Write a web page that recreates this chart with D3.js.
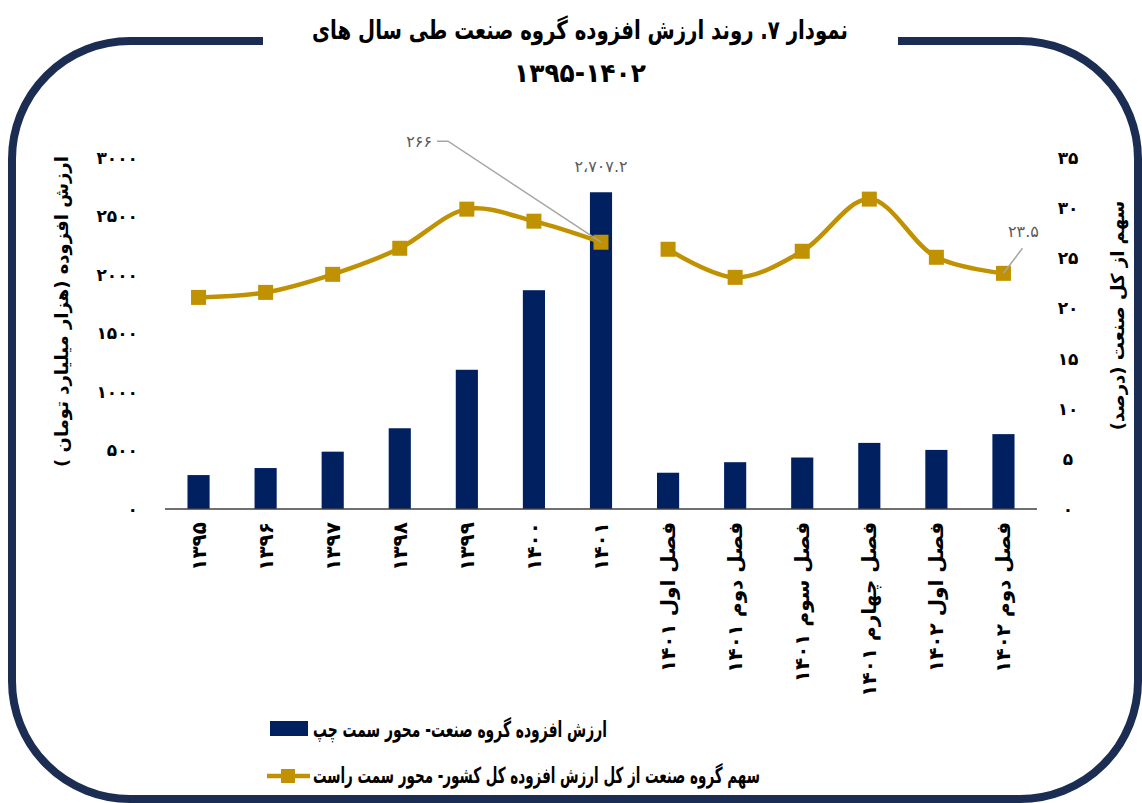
<!DOCTYPE html>
<html>
<head>
<meta charset="utf-8">
<script src="https://cdn.jsdelivr.net/npm/d3@7"></script>
<style>
  html, body { margin: 0; padding: 0; background: #ffffff; }
  svg { display: block; }
  text { font-family: "DejaVu Sans", sans-serif; }
</style>
</head>
<body>
<svg id="chart" width="1142" height="803"></svg>
<script>
// ---------- DATA ----------
const categories = ["۱۳۹۵","۱۳۹۶","۱۳۹۷","۱۳۹۸","۱۳۹۹","۱۴۰۰","۱۴۰۱",
  "فصل اول ۱۴۰۱","فصل دوم ۱۴۰۱","فصل سوم ۱۴۰۱","فصل چهارم ۱۴۰۱","فصل اول ۱۴۰۲","فصل دوم ۱۴۰۲"];
const valueAdded = [290, 350, 490, 690, 1190, 1870, 2707.2, 310, 400, 440, 565, 505, 640];
const industryShare = [21.1, 21.6, 23.4, 26.0, 29.9, 28.7, 26.6, 25.9, 23.1, 25.7, 30.9, 25.1, 23.5];
const lineSegments = [[0, 7], [7, 13]];
const leftTicks = [0, 500, 1000, 1500, 2000, 2500, 3000];
const rightTicks = [0, 5, 10, 15, 20, 25, 30, 35];
const titleLines = ["نمودار ۷. روند ارزش افزوده گروه صنعت طی سال های", "۱۳۹۵-۱۴۰۲"];
const leftAxisTitle = "ارزش افزوده (هزار میلیارد تومان )";
const rightAxisTitle = "سهم از کل صنعت (درصد)";
const legendLabels = ["ارزش افزوده گروه صنعت- محور سمت چپ", "سهم گروه صنعت از کل ارزش افزوده کل کشور- محور سمت راست"];
const barLabel = { index: 6, text: "۲،۷۰۷.۲" };
const lineLabels = [{ index: 6, text: "۲۶۶" }, { index: 12, text: "۲۳.۵" }];

// ---------- STYLE ----------
const BAR = "#002060", LINE = "#c09100", FRAME = "#1b2d52", LEADER = "#a6a6a6", LABEL = "#595959";
const fa = v => String(v).replace(/\d/g, d => "۰۱۲۳۴۵۶۷۸۹"[d]);

const svg = d3.select("#chart");
const plot = { left: 165, right: 1037, top: 158, bottom: 509 };

const x = d3.scaleBand().domain(categories).range([plot.left, plot.right])
  .paddingInner(0.67).paddingOuter(0.335);
const yL = d3.scaleLinear().domain([0, 3000]).range([plot.bottom, plot.top]);
const yR = d3.scaleLinear().domain([0, 35]).range([plot.bottom, plot.top]);

// ---------- FRAME ----------
(function () {
  const L = 12, R = 1138, T = 41, B = 799, r = 118, gapL = 263, gapR = 898;
  const p = d3.path();
  p.moveTo(gapL, T);
  p.lineTo(L + r, T);
  p.arcTo(L, T, L, T + r, r);
  p.lineTo(L, B - r);
  p.arcTo(L, B, L + r, B, r);
  p.lineTo(R - r, B);
  p.arcTo(R, B, R, B - r, r);
  p.lineTo(R, T + r);
  p.arcTo(R, T, R - r, T, r);
  p.lineTo(gapR, T);
  svg.append("path").attr("d", p.toString()).attr("fill", "none")
    .attr("stroke", FRAME).attr("stroke-width", 8);
})();

// ---------- TITLE ----------
const titleStyle = [{ size: 26, len: 536, y: 39 }, { size: 26, len: 132, y: 82 }];
svg.append("g").selectAll("text").data(titleLines).join("text")
  .attr("x", 580).attr("y", (d, i) => titleStyle[i].y)
  .attr("text-anchor", "middle").attr("direction", "rtl")
  .attr("font-size", (d, i) => titleStyle[i].size).attr("font-weight", "bold").attr("fill", "#000")
  .attr("textLength", (d, i) => titleStyle[i].len).attr("lengthAdjust", "spacingAndGlyphs")
  .text(d => d);

// ---------- BARS ----------
svg.append("g").selectAll("rect").data(valueAdded).join("rect")
  .attr("x", (d, i) => x(categories[i]))
  .attr("width", x.bandwidth())
  .attr("y", d => yL(d))
  .attr("height", d => yL(0) - yL(d))
  .attr("fill", BAR);

// baseline
svg.append("line").attr("x1", plot.left).attr("x2", plot.right)
  .attr("y1", plot.bottom).attr("y2", plot.bottom)
  .attr("stroke", "#404040").attr("stroke-width", 1.5);

// ---------- AXES ----------
const gl = svg.append("g").attr("transform", `translate(141,0)`)
  .call(d3.axisLeft(yL).tickValues(leftTicks).tickSize(0).tickPadding(3).tickFormat(fa));
gl.select(".domain").remove();
gl.selectAll("text").attr("font-size", 17).attr("font-weight", "bold")
  .attr("font-family", "DejaVu Sans").attr("fill", "#000");

const gr = svg.append("g").attr("transform", `translate(1068,0)`)
  .call(d3.axisRight(yR).tickValues(rightTicks).tickSize(0).tickPadding(0).tickFormat(fa));
gr.select(".domain").remove();
gr.selectAll("text").attr("text-anchor", "middle").attr("font-size", 17).attr("font-weight", "bold")
  .attr("font-family", "DejaVu Sans").attr("fill", "#000");

// x labels
svg.append("g").selectAll("text").data(categories).join("text")
  .attr("transform", d => `translate(${x(d) + x.bandwidth() / 2},522) rotate(-90)`)
  .attr("text-anchor", "end").attr("dy", "0.35em")
  .attr("font-size", 20).attr("font-weight", "bold").attr("fill", "#000")
  .text(d => d);

// axis titles
svg.append("text")
  .attr("transform", `translate(62,${(plot.top + plot.bottom) / 2 - 22}) rotate(-90)`)
  .attr("text-anchor", "middle").attr("direction", "rtl").attr("dy", "0.35em")
  .attr("font-size", 18).attr("font-weight", "bold").text(leftAxisTitle);
svg.append("text")
  .attr("transform", `translate(1118,${(plot.top + plot.bottom) / 2 - 18}) rotate(-90)`)
  .attr("text-anchor", "middle").attr("direction", "rtl").attr("dy", "0.35em")
  .attr("font-size", 18).attr("font-weight", "bold").text(rightAxisTitle);

// ---------- LINE ----------
const line = d3.line()
  .x(i => x(categories[i]) + x.bandwidth() / 2)
  .y(i => yR(industryShare[i]))
  .curve(d3.curveCatmullRom.alpha(0.5));
svg.append("g").selectAll("path").data(lineSegments).join("path")
  .attr("d", s => line(d3.range(s[0], s[1])))
  .attr("fill", "none").attr("stroke", LINE).attr("stroke-width", 4.5);

const ms = 15;
svg.append("g").selectAll("rect").data(industryShare).join("rect")
  .attr("x", (d, i) => x(categories[i]) + x.bandwidth() / 2 - ms / 2)
  .attr("y", d => yR(d) - ms / 2)
  .attr("width", ms).attr("height", ms).attr("fill", LINE);

// ---------- DATA LABELS ----------
{
  const bx = x(categories[barLabel.index]) + x.bandwidth() / 2;
  svg.append("text").attr("x", bx).attr("y", yL(valueAdded[barLabel.index]) - 20)
    .attr("text-anchor", "middle").attr("font-size", 16).attr("fill", LABEL)
    .text(barLabel.text);
}
{
  const li = lineLabels[0];
  const px = x(categories[li.index]) + x.bandwidth() / 2, py = yR(industryShare[li.index]);
  const kx = px - 153, ky = py - 101;
  svg.append("path").attr("d", `M${px},${py}L${kx},${ky}L${kx - 11},${ky}`)
    .attr("fill", "none").attr("stroke", LEADER).attr("stroke-width", 1.5);
  svg.append("text").attr("x", kx - 16).attr("y", ky).attr("dy", "0.35em")
    .attr("text-anchor", "end").attr("font-size", 16).attr("fill", LABEL).text(li.text);
}
{
  const li = lineLabels[1];
  const px = x(categories[li.index]) + x.bandwidth() / 2, py = yR(industryShare[li.index]);
  svg.append("line").attr("x1", px).attr("y1", py).attr("x2", px + 19).attr("y2", py - 25)
    .attr("stroke", LEADER).attr("stroke-width", 1.5);
  svg.append("text").attr("x", px + 20).attr("y", py - 36)
    .attr("text-anchor", "middle").attr("font-size", 16).attr("fill", LABEL).text(li.text);
}

// ---------- LEGEND ----------
{
  const legendLen = [294, 447];
  const g = svg.append("g");
  g.append("rect").attr("x", 270).attr("y", 721).attr("width", 38).attr("height", 15).attr("fill", BAR);
  g.append("line").attr("x1", 267).attr("x2", 310).attr("y1", 776).attr("y2", 776)
    .attr("stroke", LINE).attr("stroke-width", 4.5);
  g.append("rect").attr("x", 281).attr("y", 769).attr("width", 14).attr("height", 14).attr("fill", LINE);
  g.selectAll("text").data(legendLabels).join("text")
    .attr("x", 313).attr("y", (d, i) => 729 + i * 46).attr("dy", "0.35em")
    .attr("text-anchor", "start")
    .attr("font-size", 22).attr("font-weight", "bold").attr("fill", "#000")
    .attr("textLength", (d, i) => legendLen[i]).attr("lengthAdjust", "spacingAndGlyphs")
    .text(d => d);
}
</script>
</body>
</html>
